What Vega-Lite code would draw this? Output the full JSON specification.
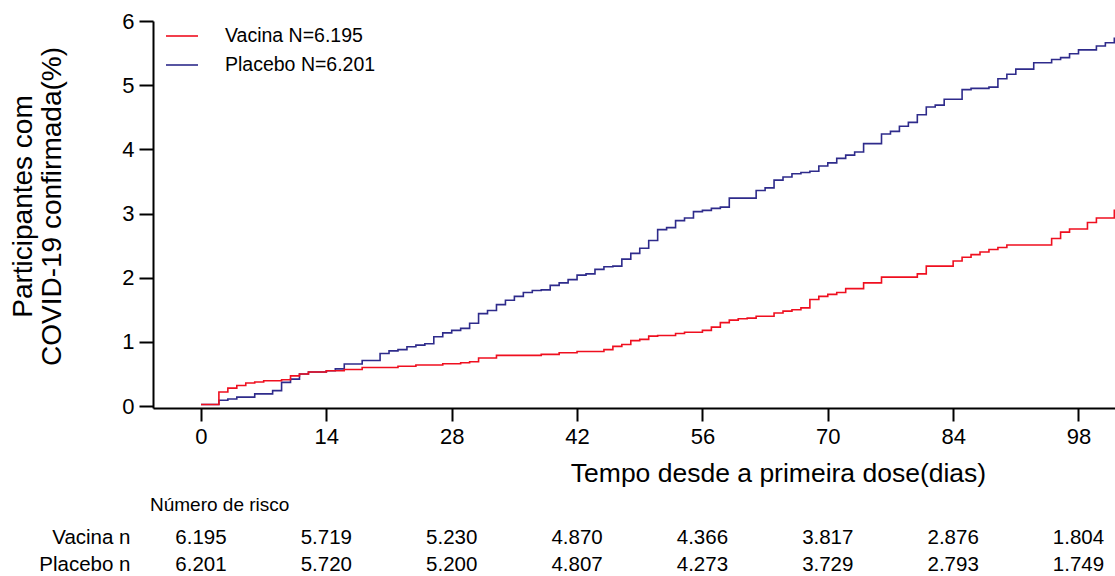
{
  "$schema": "https://vega.github.io/schema/vega-lite/v6.json",
  "background": "white",
  "padding": {"left": 8, "top": 10, "right": 0, "bottom": 0},
  "spacing": 8,
  "config": {
    "font": "Liberation Sans",
    "view": {"stroke": null},
    "axis": {"domainColor": "black", "domainWidth": 2, "tickColor": "black", "tickWidth": 2, "labelColor": "black", "titleColor": "black", "grid": false, "labelFont": "Liberation Sans", "titleFont": "Liberation Sans", "titleFontWeight": "normal", "labelFlush": false, "labelOverlap": false}
  },
  "resolve": {"scale": {"x": "independent"}},
  "datasets": {
    "curves": [
      {"group": "Placebo N=6.201", "day": 0, "pct": 0.025},
      {"group": "Placebo N=6.201", "day": 2, "pct": 0.09},
      {"group": "Placebo N=6.201", "day": 3, "pct": 0.11},
      {"group": "Placebo N=6.201", "day": 4, "pct": 0.14},
      {"group": "Placebo N=6.201", "day": 6, "pct": 0.19},
      {"group": "Placebo N=6.201", "day": 8, "pct": 0.24},
      {"group": "Placebo N=6.201", "day": 9, "pct": 0.37},
      {"group": "Placebo N=6.201", "day": 10, "pct": 0.42},
      {"group": "Placebo N=6.201", "day": 11, "pct": 0.5},
      {"group": "Placebo N=6.201", "day": 12, "pct": 0.53},
      {"group": "Placebo N=6.201", "day": 14, "pct": 0.55},
      {"group": "Placebo N=6.201", "day": 15, "pct": 0.58},
      {"group": "Placebo N=6.201", "day": 16, "pct": 0.655},
      {"group": "Placebo N=6.201", "day": 18, "pct": 0.71},
      {"group": "Placebo N=6.201", "day": 20, "pct": 0.82},
      {"group": "Placebo N=6.201", "day": 21, "pct": 0.86},
      {"group": "Placebo N=6.201", "day": 22, "pct": 0.88},
      {"group": "Placebo N=6.201", "day": 23, "pct": 0.925},
      {"group": "Placebo N=6.201", "day": 24, "pct": 0.95},
      {"group": "Placebo N=6.201", "day": 25, "pct": 0.97},
      {"group": "Placebo N=6.201", "day": 26, "pct": 1.08},
      {"group": "Placebo N=6.201", "day": 27, "pct": 1.14},
      {"group": "Placebo N=6.201", "day": 28, "pct": 1.18},
      {"group": "Placebo N=6.201", "day": 29, "pct": 1.21},
      {"group": "Placebo N=6.201", "day": 30, "pct": 1.29},
      {"group": "Placebo N=6.201", "day": 31, "pct": 1.44},
      {"group": "Placebo N=6.201", "day": 32, "pct": 1.49},
      {"group": "Placebo N=6.201", "day": 33, "pct": 1.58},
      {"group": "Placebo N=6.201", "day": 34, "pct": 1.65},
      {"group": "Placebo N=6.201", "day": 35, "pct": 1.71},
      {"group": "Placebo N=6.201", "day": 36, "pct": 1.77},
      {"group": "Placebo N=6.201", "day": 37, "pct": 1.8},
      {"group": "Placebo N=6.201", "day": 38, "pct": 1.81},
      {"group": "Placebo N=6.201", "day": 39, "pct": 1.88},
      {"group": "Placebo N=6.201", "day": 40, "pct": 1.92},
      {"group": "Placebo N=6.201", "day": 41, "pct": 1.97},
      {"group": "Placebo N=6.201", "day": 42, "pct": 2.04},
      {"group": "Placebo N=6.201", "day": 43, "pct": 2.06},
      {"group": "Placebo N=6.201", "day": 44, "pct": 2.13},
      {"group": "Placebo N=6.201", "day": 45, "pct": 2.17},
      {"group": "Placebo N=6.201", "day": 46, "pct": 2.18},
      {"group": "Placebo N=6.201", "day": 47, "pct": 2.29},
      {"group": "Placebo N=6.201", "day": 48, "pct": 2.38},
      {"group": "Placebo N=6.201", "day": 49, "pct": 2.46},
      {"group": "Placebo N=6.201", "day": 50, "pct": 2.58},
      {"group": "Placebo N=6.201", "day": 51, "pct": 2.75},
      {"group": "Placebo N=6.201", "day": 52, "pct": 2.78},
      {"group": "Placebo N=6.201", "day": 53, "pct": 2.89},
      {"group": "Placebo N=6.201", "day": 54, "pct": 2.93},
      {"group": "Placebo N=6.201", "day": 55, "pct": 3.03},
      {"group": "Placebo N=6.201", "day": 56, "pct": 3.05},
      {"group": "Placebo N=6.201", "day": 57, "pct": 3.08},
      {"group": "Placebo N=6.201", "day": 58, "pct": 3.1},
      {"group": "Placebo N=6.201", "day": 59, "pct": 3.24},
      {"group": "Placebo N=6.201", "day": 62, "pct": 3.36},
      {"group": "Placebo N=6.201", "day": 63, "pct": 3.4},
      {"group": "Placebo N=6.201", "day": 64, "pct": 3.52},
      {"group": "Placebo N=6.201", "day": 65, "pct": 3.57},
      {"group": "Placebo N=6.201", "day": 66, "pct": 3.62},
      {"group": "Placebo N=6.201", "day": 67, "pct": 3.64},
      {"group": "Placebo N=6.201", "day": 68, "pct": 3.66},
      {"group": "Placebo N=6.201", "day": 69, "pct": 3.74},
      {"group": "Placebo N=6.201", "day": 70, "pct": 3.79},
      {"group": "Placebo N=6.201", "day": 71, "pct": 3.86},
      {"group": "Placebo N=6.201", "day": 72, "pct": 3.91},
      {"group": "Placebo N=6.201", "day": 73, "pct": 3.96},
      {"group": "Placebo N=6.201", "day": 74, "pct": 4.09},
      {"group": "Placebo N=6.201", "day": 76, "pct": 4.24},
      {"group": "Placebo N=6.201", "day": 77, "pct": 4.28},
      {"group": "Placebo N=6.201", "day": 78, "pct": 4.36},
      {"group": "Placebo N=6.201", "day": 79, "pct": 4.42},
      {"group": "Placebo N=6.201", "day": 80, "pct": 4.54},
      {"group": "Placebo N=6.201", "day": 81, "pct": 4.66},
      {"group": "Placebo N=6.201", "day": 82, "pct": 4.69},
      {"group": "Placebo N=6.201", "day": 83, "pct": 4.78},
      {"group": "Placebo N=6.201", "day": 85, "pct": 4.93},
      {"group": "Placebo N=6.201", "day": 86, "pct": 4.95},
      {"group": "Placebo N=6.201", "day": 88, "pct": 4.97},
      {"group": "Placebo N=6.201", "day": 89, "pct": 5.1},
      {"group": "Placebo N=6.201", "day": 90, "pct": 5.17},
      {"group": "Placebo N=6.201", "day": 91, "pct": 5.25},
      {"group": "Placebo N=6.201", "day": 93, "pct": 5.35},
      {"group": "Placebo N=6.201", "day": 95, "pct": 5.4},
      {"group": "Placebo N=6.201", "day": 96, "pct": 5.43},
      {"group": "Placebo N=6.201", "day": 97, "pct": 5.49},
      {"group": "Placebo N=6.201", "day": 98, "pct": 5.55},
      {"group": "Placebo N=6.201", "day": 100, "pct": 5.61},
      {"group": "Placebo N=6.201", "day": 101, "pct": 5.66},
      {"group": "Placebo N=6.201", "day": 102, "pct": 5.73},
      {"group": "Placebo N=6.201", "day": 102.3, "pct": 5.73},
      {"group": "Vacina N=6.195", "day": 0, "pct": 0.025},
      {"group": "Vacina N=6.195", "day": 2, "pct": 0.22},
      {"group": "Vacina N=6.195", "day": 3, "pct": 0.28},
      {"group": "Vacina N=6.195", "day": 4, "pct": 0.32},
      {"group": "Vacina N=6.195", "day": 5, "pct": 0.36},
      {"group": "Vacina N=6.195", "day": 6, "pct": 0.375},
      {"group": "Vacina N=6.195", "day": 7, "pct": 0.395},
      {"group": "Vacina N=6.195", "day": 9, "pct": 0.41},
      {"group": "Vacina N=6.195", "day": 10, "pct": 0.47},
      {"group": "Vacina N=6.195", "day": 11, "pct": 0.5},
      {"group": "Vacina N=6.195", "day": 12, "pct": 0.53},
      {"group": "Vacina N=6.195", "day": 14, "pct": 0.55},
      {"group": "Vacina N=6.195", "day": 16, "pct": 0.57},
      {"group": "Vacina N=6.195", "day": 18, "pct": 0.6},
      {"group": "Vacina N=6.195", "day": 22, "pct": 0.62},
      {"group": "Vacina N=6.195", "day": 24, "pct": 0.64},
      {"group": "Vacina N=6.195", "day": 27, "pct": 0.66},
      {"group": "Vacina N=6.195", "day": 29, "pct": 0.675},
      {"group": "Vacina N=6.195", "day": 30, "pct": 0.69},
      {"group": "Vacina N=6.195", "day": 31, "pct": 0.75},
      {"group": "Vacina N=6.195", "day": 33, "pct": 0.79},
      {"group": "Vacina N=6.195", "day": 38, "pct": 0.805},
      {"group": "Vacina N=6.195", "day": 40, "pct": 0.83},
      {"group": "Vacina N=6.195", "day": 42, "pct": 0.85},
      {"group": "Vacina N=6.195", "day": 45, "pct": 0.88},
      {"group": "Vacina N=6.195", "day": 46, "pct": 0.93},
      {"group": "Vacina N=6.195", "day": 47, "pct": 0.96},
      {"group": "Vacina N=6.195", "day": 48, "pct": 1.02},
      {"group": "Vacina N=6.195", "day": 49, "pct": 1.04},
      {"group": "Vacina N=6.195", "day": 50, "pct": 1.09},
      {"group": "Vacina N=6.195", "day": 51, "pct": 1.1},
      {"group": "Vacina N=6.195", "day": 53, "pct": 1.13},
      {"group": "Vacina N=6.195", "day": 54, "pct": 1.15},
      {"group": "Vacina N=6.195", "day": 56, "pct": 1.18},
      {"group": "Vacina N=6.195", "day": 57, "pct": 1.23},
      {"group": "Vacina N=6.195", "day": 58, "pct": 1.3},
      {"group": "Vacina N=6.195", "day": 59, "pct": 1.34},
      {"group": "Vacina N=6.195", "day": 60, "pct": 1.36},
      {"group": "Vacina N=6.195", "day": 61, "pct": 1.37},
      {"group": "Vacina N=6.195", "day": 62, "pct": 1.4},
      {"group": "Vacina N=6.195", "day": 64, "pct": 1.45},
      {"group": "Vacina N=6.195", "day": 65, "pct": 1.48},
      {"group": "Vacina N=6.195", "day": 66, "pct": 1.5},
      {"group": "Vacina N=6.195", "day": 67, "pct": 1.53},
      {"group": "Vacina N=6.195", "day": 68, "pct": 1.66},
      {"group": "Vacina N=6.195", "day": 69, "pct": 1.71},
      {"group": "Vacina N=6.195", "day": 70, "pct": 1.74},
      {"group": "Vacina N=6.195", "day": 71, "pct": 1.77},
      {"group": "Vacina N=6.195", "day": 72, "pct": 1.83},
      {"group": "Vacina N=6.195", "day": 74, "pct": 1.92},
      {"group": "Vacina N=6.195", "day": 76, "pct": 2.01},
      {"group": "Vacina N=6.195", "day": 80, "pct": 2.06},
      {"group": "Vacina N=6.195", "day": 81, "pct": 2.18},
      {"group": "Vacina N=6.195", "day": 84, "pct": 2.26},
      {"group": "Vacina N=6.195", "day": 85, "pct": 2.32},
      {"group": "Vacina N=6.195", "day": 86, "pct": 2.36},
      {"group": "Vacina N=6.195", "day": 87, "pct": 2.4},
      {"group": "Vacina N=6.195", "day": 88, "pct": 2.44},
      {"group": "Vacina N=6.195", "day": 89, "pct": 2.47},
      {"group": "Vacina N=6.195", "day": 90, "pct": 2.51},
      {"group": "Vacina N=6.195", "day": 95, "pct": 2.61},
      {"group": "Vacina N=6.195", "day": 96, "pct": 2.71},
      {"group": "Vacina N=6.195", "day": 97, "pct": 2.76},
      {"group": "Vacina N=6.195", "day": 99, "pct": 2.86},
      {"group": "Vacina N=6.195", "day": 100, "pct": 2.93},
      {"group": "Vacina N=6.195", "day": 102, "pct": 3.05},
      {"group": "Vacina N=6.195", "day": 102.3, "pct": 3.05}
    ],
    "risk": [
      {"grupo": "Vacina n", "day": 0, "n": "6.195"},
      {"grupo": "Vacina n", "day": 14, "n": "5.719"},
      {"grupo": "Vacina n", "day": 28, "n": "5.230"},
      {"grupo": "Vacina n", "day": 42, "n": "4.870"},
      {"grupo": "Vacina n", "day": 56, "n": "4.366"},
      {"grupo": "Vacina n", "day": 70, "n": "3.817"},
      {"grupo": "Vacina n", "day": 84, "n": "2.876"},
      {"grupo": "Vacina n", "day": 98, "n": "1.804"},
      {"grupo": "Placebo n", "day": 0, "n": "6.201"},
      {"grupo": "Placebo n", "day": 14, "n": "5.720"},
      {"grupo": "Placebo n", "day": 28, "n": "5.200"},
      {"grupo": "Placebo n", "day": 42, "n": "4.807"},
      {"grupo": "Placebo n", "day": 56, "n": "4.273"},
      {"grupo": "Placebo n", "day": 70, "n": "3.729"},
      {"grupo": "Placebo n", "day": 84, "n": "2.793"},
      {"grupo": "Placebo n", "day": 98, "n": "1.749"}
    ]
  },
  "vconcat": [
    {
      "width": 964,
      "height": 387,
      "data": {"name": "curves"},
      "mark": {"type": "line", "interpolate": "step-after", "strokeWidth": 1.6, "clip": true},
      "encoding": {
        "x": {
          "field": "day", "type": "quantitative",
          "scale": {"domain": [-5.36, 102.3], "nice": false, "zero": false},
          "axis": {"values": [0, 14, 28, 42, 56, 70, 84, 98], "tickSize": 13, "labelFontSize": 22, "labelPadding": 5,
                   "title": "Tempo desde a primeira dose(dias)", "titleFontSize": 26.5, "titleX": 625, "titleY": 73,
                   "titleBaseline": "alphabetic", "titleAlign": "center"}
        },
        "y": {
          "field": "pct", "type": "quantitative",
          "scale": {"domain": [-0.03, 6], "nice": false, "zero": false},
          "axis": {"values": [0, 1, 2, 3, 4, 5, 6], "tickSize": 14, "labelFontSize": 22, "labelPadding": 5,
                   "title": ["Participantes com", "COVID-19 confirmada(%)"], "titleFontSize": 28, "titleLineHeight": 29.5,
                   "titleX": -116, "titleY": 185, "titleBaseline": "bottom", "titleAngle": -90, "titleAlign": "center"}
        },
        "color": {
          "field": "group", "type": "nominal",
          "scale": {"domain": ["Vacina N=6.195", "Placebo N=6.201"], "range": ["#ef0f1f", "#2e2b8b"]},
          "legend": {"title": null, "orient": "none", "legendX": 12, "legendY": -2, "symbolType": "stroke", "symbolSize": 1024,
                     "symbolStrokeWidth": 1.6, "labelFontSize": 19.5, "labelOffset": 26, "rowPadding": 2, "labelColor": "black",
                     "labelFont": "Liberation Sans"}
        }
      }
    },
    {
      "width": 964,
      "height": 54,
      "data": {"name": "risk"},
      "title": {"text": "Número de risco", "anchor": "start", "frame": "group", "fontSize": 19, "fontWeight": "normal",
                "baseline": "alphabetic", "offset": -5.5, "dx": -3, "color": "black", "font": "Liberation Sans"},
      "mark": {"type": "text", "fontSize": 20.5, "align": "center", "baseline": "middle", "color": "black", "font": "Liberation Sans"},
      "encoding": {
        "x": {"field": "day", "type": "quantitative", "scale": {"domain": [-5.36, 102.3], "nice": false, "zero": false}, "axis": null},
        "y": {"field": "grupo", "type": "nominal", "sort": ["Vacina n", "Placebo n"],
              "axis": {"title": null, "domain": false, "ticks": false, "tickSize": 0, "labelFontSize": 20.5, "labelPadding": 23}},
        "text": {"field": "n", "type": "nominal"}
      }
    }
  ]
}
